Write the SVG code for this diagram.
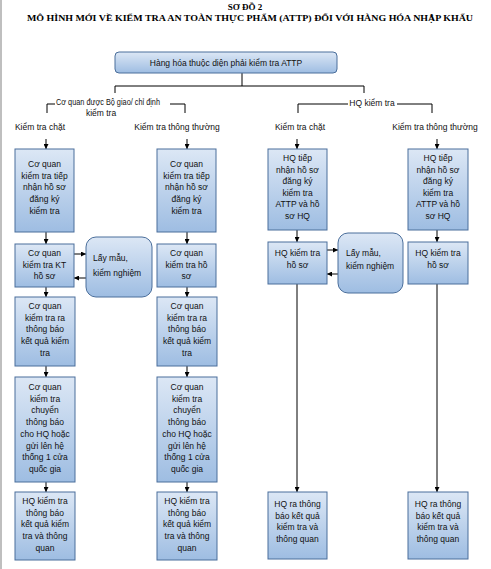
<svg xmlns="http://www.w3.org/2000/svg" width="491" height="569" viewBox="0 0 491 569">
<defs>
<linearGradient id="g" x1="0" y1="0" x2="0" y2="1">
<stop offset="0" stop-color="#dce7f5"/>
<stop offset="1" stop-color="#9ebde2"/>
</linearGradient>
<marker id="a" viewBox="0 0 6 6" refX="6" refY="3" markerWidth="5" markerHeight="5" orient="auto" markerUnits="userSpaceOnUse">
<path d="M0,0 L6,3 L0,6 z" fill="#000"/>
</marker>
<style>
.b{fill:url(#g);stroke:#4a6e9b;stroke-width:1}
.t{font-family:"Liberation Sans",Arial,sans-serif;font-size:8.5px;fill:#111;text-anchor:middle}
.l{font-family:"Liberation Sans",Arial,sans-serif;font-size:8.5px;fill:#111}
.h{font-family:"Liberation Serif","Times New Roman",serif;font-size:9px;font-weight:bold;fill:#000;text-anchor:middle}
.c{fill:none;stroke:#000;stroke-width:1}
.ar{fill:none;stroke:#000;stroke-width:1;marker-end:url(#a)}
</style>
</defs>
<rect width="491" height="569" fill="#fff"/>
<line x1="1" y1="0" x2="1" y2="569" stroke="#aaa" stroke-width="1.5"/>
<g id="title">
<text class="h" x="245" y="9.5">SƠ ĐỒ 2</text>
<text class="h" x="250" y="20.5" textLength="446" lengthAdjust="spacingAndGlyphs">MÔ HÌNH MỚI VỀ KIỂM TRA AN TOÀN THỰC PHẨM (ATTP) ĐỐI VỚI HÀNG HÓA NHẬP KHẨU</text>
</g>
<g id="labels">
<text class="t" x="108" y="105" textLength="104" lengthAdjust="spacingAndGlyphs">Cơ quan được Bộ giao/ chỉ định</text>
<text class="t" x="101" y="116">kiểm tra</text>
<text class="t" x="372" y="106">HQ kiểm tra</text>
<text class="t" x="40" y="130">Kiểm tra chặt</text>
<text class="t" x="177" y="130">Kiểm tra thông thường</text>
<text class="t" x="300" y="130">Kiểm tra chặt</text>
<text class="t" x="435" y="130">Kiểm tra thông thường</text>
</g>
<g id="connectors">
<polyline class="c" points="242,73 242,86"/>
<polyline class="c" points="115,93 115,86 364,86 364,93"/>
<polyline class="c" points="47,113 47,104 55,104"/>
<polyline class="c" points="170,104 185,104 185,113"/>
<polyline class="c" points="298,113 298,104 348,104"/>
<polyline class="c" points="397,104 432,104 432,113"/>
<line class="ar" x1="46" y1="139" x2="46" y2="149"/>
<line class="ar" x1="46" y1="232" x2="46" y2="244"/>
<line class="ar" x1="46" y1="287" x2="46" y2="297"/>
<line class="ar" x1="46" y1="366" x2="46" y2="377"/>
<line class="ar" x1="46" y1="482" x2="46" y2="492"/>
<line class="ar" x1="187" y1="139" x2="187" y2="149"/>
<line class="ar" x1="187" y1="232" x2="187" y2="244"/>
<line class="ar" x1="187" y1="287" x2="187" y2="297"/>
<line class="ar" x1="187" y1="366" x2="187" y2="377"/>
<line class="ar" x1="187" y1="482" x2="187" y2="492"/>
<line class="ar" x1="74" y1="254" x2="86" y2="254"/>
<line class="ar" x1="86" y1="278" x2="74" y2="278"/>
<line class="ar" x1="297" y1="139" x2="297" y2="149"/>
<line class="ar" x1="297" y1="230" x2="297" y2="242"/>
<line class="ar" x1="297" y1="284" x2="297" y2="492"/>
<line class="ar" x1="437" y1="139" x2="437" y2="149"/>
<line class="ar" x1="437" y1="230" x2="437" y2="242"/>
<line class="ar" x1="437" y1="284" x2="437" y2="492"/>
<line class="ar" x1="327" y1="250" x2="338" y2="250"/>
<line class="ar" x1="338" y1="274" x2="327" y2="274"/>
</g>
<g id="top">
<rect class="b" x="115" y="52" width="222" height="21" rx="4"/>
<text class="t" x="226" y="65.5">Hàng hóa thuộc diện phải kiểm tra ATTP</text>
</g>
<g id="L1">
<rect class="b" x="15" y="149" width="59" height="83"/>
<text class="t" x="44.5" y="167">Cơ quan</text>
<text class="t" x="44.5" y="178.7">kiểm tra tiếp</text>
<text class="t" x="44.5" y="190.4">nhận hồ sơ</text>
<text class="t" x="44.5" y="202.1">đăng ký</text>
<text class="t" x="44.5" y="213.8">kiểm tra</text>
</g>
<g id="L2">
<rect class="b" x="15" y="244" width="59" height="43"/>
<text class="t" x="44.5" y="256">Cơ quan</text>
<text class="t" x="44.5" y="267.5">kiểm tra KT</text>
<text class="t" x="44.5" y="279">hồ sơ</text>
</g>
<g id="L3">
<rect class="b" x="15" y="297" width="60" height="69"/>
<text class="t" x="45" y="309">Cơ quan</text>
<text class="t" x="45" y="320.7">kiểm tra ra</text>
<text class="t" x="45" y="332.4">thông báo</text>
<text class="t" x="45" y="344.1">kết quả kiểm</text>
<text class="t" x="45" y="355.8">tra</text>
</g>
<g id="L4">
<rect class="b" x="15" y="377" width="60" height="105"/>
<text class="t" x="45" y="390">Cơ quan</text>
<text class="t" x="45" y="401.7">kiểm tra</text>
<text class="t" x="45" y="413.4">chuyển</text>
<text class="t" x="45" y="425.1">thông báo</text>
<text class="t" x="45" y="436.8">cho HQ hoặc</text>
<text class="t" x="45" y="448.5">gửi lên hệ</text>
<text class="t" x="45" y="460.2">thống 1 cửa</text>
<text class="t" x="45" y="471.9">quốc gia</text>
</g>
<g id="L5">
<rect class="b" x="15" y="492" width="60" height="68"/>
<text class="t" x="45" y="504">HQ kiểm tra</text>
<text class="t" x="45" y="515.7">thông báo</text>
<text class="t" x="45" y="527.4">kết quả kiểm</text>
<text class="t" x="45" y="539.1">tra và thông</text>
<text class="t" x="45" y="550.8">quan</text>
</g>
<g id="LS1">
<rect class="b" x="86" y="237" width="66" height="60" rx="10"/>
<text class="l" x="93" y="261">Lấy mẫu,</text>
<text class="l" x="93" y="276">kiểm nghiệm</text>
</g>
<g id="M1">
<rect class="b" x="157" y="149" width="59" height="83"/>
<text class="t" x="186.5" y="167">Cơ quan</text>
<text class="t" x="186.5" y="178.7">kiểm tra tiếp</text>
<text class="t" x="186.5" y="190.4">nhận hồ sơ</text>
<text class="t" x="186.5" y="202.1">đăng ký</text>
<text class="t" x="186.5" y="213.8">kiểm tra</text>
</g>
<g id="M2">
<rect class="b" x="157" y="244" width="59" height="43"/>
<text class="t" x="186.5" y="256">Cơ quan</text>
<text class="t" x="186.5" y="267.5">kiểm tra hồ</text>
<text class="t" x="186.5" y="279">sơ</text>
</g>
<g id="M3">
<rect class="b" x="157" y="297" width="60" height="69"/>
<text class="t" x="187" y="309">Cơ quan</text>
<text class="t" x="187" y="320.7">kiểm tra ra</text>
<text class="t" x="187" y="332.4">thông báo</text>
<text class="t" x="187" y="344.1">kết quả kiểm</text>
<text class="t" x="187" y="355.8">tra</text>
</g>
<g id="M4">
<rect class="b" x="157" y="377" width="60" height="105"/>
<text class="t" x="187" y="390">Cơ quan</text>
<text class="t" x="187" y="401.7">kiểm tra</text>
<text class="t" x="187" y="413.4">chuyển</text>
<text class="t" x="187" y="425.1">thông báo</text>
<text class="t" x="187" y="436.8">cho HQ hoặc</text>
<text class="t" x="187" y="448.5">gửi lên hệ</text>
<text class="t" x="187" y="460.2">thống 1 cửa</text>
<text class="t" x="187" y="471.9">quốc gia</text>
</g>
<g id="M5">
<rect class="b" x="157" y="492" width="60" height="68"/>
<text class="t" x="187" y="504">HQ kiểm tra</text>
<text class="t" x="187" y="515.7">thông báo</text>
<text class="t" x="187" y="527.4">kết quả kiểm</text>
<text class="t" x="187" y="539.1">tra và thông</text>
<text class="t" x="187" y="550.8">quan</text>
</g>
<g id="R1">
<rect class="b" x="268" y="149" width="59" height="81"/>
<text class="t" x="297.5" y="161">HQ tiếp</text>
<text class="t" x="297.5" y="172.6">nhận hồ sơ</text>
<text class="t" x="297.5" y="184.2">đăng ký</text>
<text class="t" x="297.5" y="195.8">kiểm tra</text>
<text class="t" x="297.5" y="207.4">ATTP và hồ</text>
<text class="t" x="297.5" y="219">sơ HQ</text>
</g>
<g id="R2">
<rect class="b" x="268" y="242" width="59" height="42"/>
<text class="t" x="297.5" y="256">HQ kiểm tra</text>
<text class="t" x="297.5" y="268">hồ sơ</text>
</g>
<g id="LS2">
<rect class="b" x="338" y="233" width="65" height="60" rx="10"/>
<text class="l" x="346" y="256">Lấy mẫu,</text>
<text class="l" x="346" y="269">kiểm nghiệm</text>
</g>
<g id="R5">
<rect class="b" x="268" y="492" width="59" height="67"/>
<text class="t" x="297.5" y="507">HQ ra thông</text>
<text class="t" x="297.5" y="518.7">báo kết quả</text>
<text class="t" x="297.5" y="530.4">kiểm tra và</text>
<text class="t" x="297.5" y="542.1">thông quan</text>
</g>
<g id="S1">
<rect class="b" x="408" y="149" width="60" height="81"/>
<text class="t" x="438" y="161">HQ tiếp</text>
<text class="t" x="438" y="172.6">nhận hồ sơ</text>
<text class="t" x="438" y="184.2">đăng ký</text>
<text class="t" x="438" y="195.8">kiểm tra</text>
<text class="t" x="438" y="207.4">ATTP và hồ</text>
<text class="t" x="438" y="219">sơ HQ</text>
</g>
<g id="S2">
<rect class="b" x="408" y="242" width="60" height="42"/>
<text class="t" x="438" y="256">HQ kiểm tra</text>
<text class="t" x="438" y="268">hồ sơ</text>
</g>
<g id="S5">
<rect class="b" x="408" y="492" width="60" height="67"/>
<text class="t" x="438" y="507">HQ ra thông</text>
<text class="t" x="438" y="518.7">báo kết quả</text>
<text class="t" x="438" y="530.4">kiểm tra và</text>
<text class="t" x="438" y="542.1">thông quan</text>
</g>
</svg>
